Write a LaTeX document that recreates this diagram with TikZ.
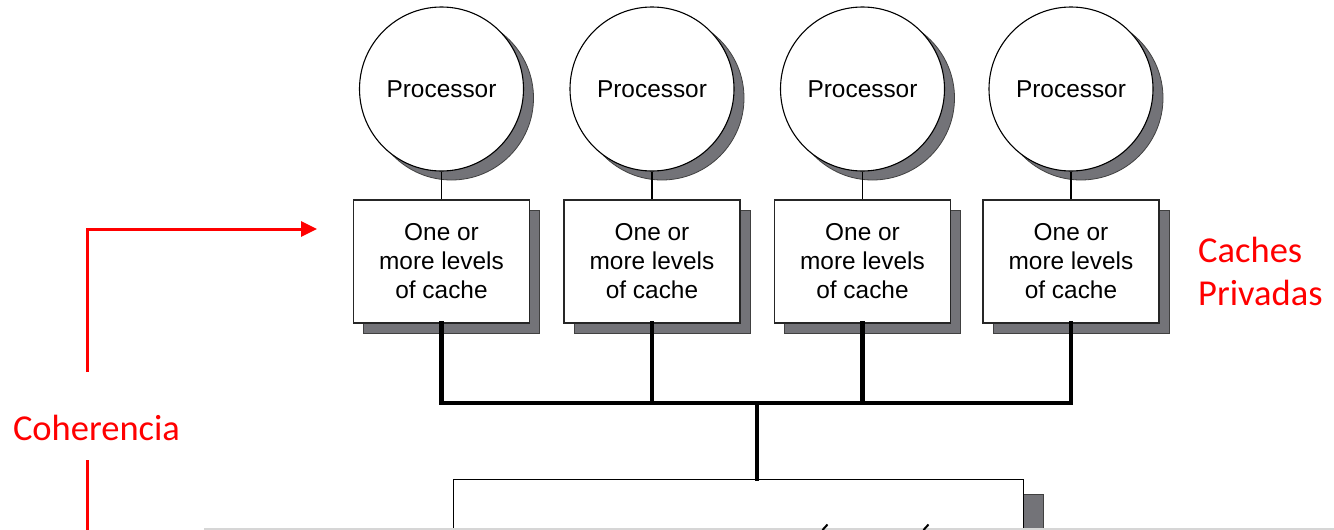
\documentclass[tikz,border=0pt]{standalone}
\usepackage{fontspec}
\setmainfont{Liberation Sans}
\newfontfamily\calib{Carlito}
\usetikzlibrary{arrows.meta}
\definecolor{shd}{HTML}{737378}
\definecolor{redann}{HTML}{FF0000}
\definecolor{lgray}{HTML}{D6D6D6}
\begin{document}
\begin{tikzpicture}[x=1pt,y=-1pt,
  proc/.style={circle,draw=black,fill=white,line width=1.1pt,minimum size=164pt,inner sep=0pt,
    font=\fontsize{24.4}{29}\selectfont},
  procshadow/.style={circle,draw=black!75,fill=shd,line width=0.8pt,minimum size=164pt,inner sep=0pt},
  cachebox/.style={rectangle,draw=black!85,fill=white,line width=1.1pt,minimum width=176pt,
    minimum height=123pt,inner sep=0pt,align=center,font=\fontsize{24.4}{29}\selectfont},
  boxshadow/.style={rectangle,draw=black!75,fill=shd,line width=0.8pt,minimum width=176pt,
    minimum height=123pt,inner sep=0pt},
  thinlink/.style={draw=black,line width=1.1pt},
  bus/.style={draw=black,line width=4.8pt,line cap=rect},
  redline/.style={draw=redann,line width=3pt},
  redtext/.style={text=redann,inner sep=0pt,font=\calib\fontsize{36.5}{43}\selectfont}
]
\useasboundingbox (0,0) rectangle (1334,530);
\fill[white] (0,0) rectangle (1334,530);

% main memory box (cut off at the bottom)
\fill[shd,draw=black!75,line width=0.8pt] (473,494) rectangle (1043,620);
\node[draw=black,fill=white,line width=1.1pt,minimum width=570pt,minimum height=140pt,
  inner sep=0pt,anchor=north west] (mem) at (453,479) {};

\foreach \i/\cx in {1/441.5,2/652,3/862.5,4/1071}{
  \node[procshadow] (ps\i) at (\cx+10,98) {};
  \node[proc] (p\i) at (\cx,89) {Processor};
  \node[boxshadow] (cs\i) at (\cx+10,271.5) {};
  \node[cachebox] (c\i) at (\cx,261.5) {One or\\more levels\\of cache};
  \draw[thinlink] (p\i.south) -- (c\i.north);
  \coordinate (b\i) at (\cx,403);
  \draw[bus] (c\i.south) -- (b\i);
}
\draw[bus] (b1) -- (b4);
\coordinate (bc) at (757,403);
\draw[bus] (bc) -- (bc |- mem.north);

% cut-off text row at the bottom
\draw[lgray,line width=2pt] (204,528.5) -- (1334,528.5);
\draw[black,line width=2pt] (822.5,530) -- (827.5,524.5);
\draw[black,line width=2pt] (923.5,530) -- (928.5,524.5);

% red annotations
\node[redtext,anchor=base] (coh) at (96.5,440) {Coherencia};
\coordinate (cup) at (87,372);
\coordinate (ctip) at (317,229);
\draw[redline,-{Triangle[length=16pt,width=15pt]}] (cup) |- (ctip);
\coordinate (cdown) at (87,460);
\coordinate (cbot) at (87,540);
\draw[redline] (cdown) -- (cbot);

\node[redtext,anchor=base west,align=left] (priv) at (1198,305) {Caches\\Privadas};
\end{tikzpicture}
\end{document}
